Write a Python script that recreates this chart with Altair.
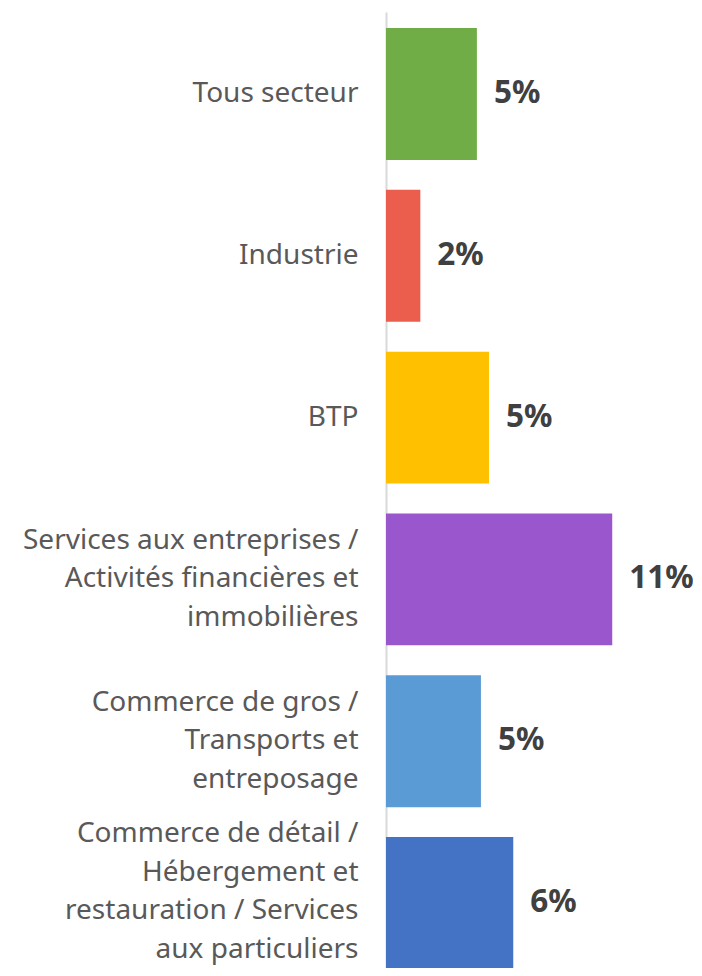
import altair as alt
import pandas as pd

categories = [
    "Tous secteur",
    "Industrie",
    "BTP",
    "Services aux entreprises /|Activités financières et|immobilières",
    "Commerce de gros /|Transports et|entreposage",
    "Commerce de détail /|Hébergement et|restauration / Services|aux particuliers",
]
values = [4.5, 1.7, 5.1, 11.2, 4.7, 6.3]
labels = ["5%", "2%", "5%", "11%", "5%", "6%"]
colors = ["#70AD47", "#EB5E4E", "#FFC000", "#9A57CD", "#5B9BD5", "#4472C4"]

df = pd.DataFrame({"cat": categories, "val": values, "lab": labels, "col": colors})

FONT = "Noto Sans"
LINE_H = 38.5

y_enc = alt.Y(
    "cat:N",
    sort=categories,
    scale=alt.Scale(paddingInner=0.185, paddingOuter=0.099),
    axis=alt.Axis(
        title=None,
        ticks=False,
        domain=True,
        domainColor="#D9D9D9",
        domainWidth=2,
        labelExpr="split(datum.label, '|')",
        labelFont=FONT,
        labelFontSize=28,
        labelColor="#595959",
        labelPadding=28,
        labelLineHeight=LINE_H,
        labelLimit=400,
        labelOffset={
            "condition": [
                {"test": "length(split(datum.value, '|')) == 4", "value": -1.5 * LINE_H - 11},
                {"test": "length(split(datum.value, '|')) == 3", "value": -1.0 * LINE_H},
            ],
            "value": 0,
        },
    ),
)
x_enc = alt.X(
    "val:Q",
    scale=alt.Scale(domain=[0, 15], nice=False),
    axis=None,
)

bars = alt.Chart(df).mark_bar().encode(
    y=y_enc,
    x=x_enc,
    color=alt.Color("col:N", scale=None),
)

text = alt.Chart(df).mark_text(
    align="left",
    baseline="middle",
    dx=17,
    font=FONT,
    fontSize=31.5,
    fontWeight="bold",
    color="#404040",
).encode(y=alt.Y("cat:N", sort=categories), x="val:Q", text="lab:N")

chart = (
    alt.layer(bars, text)
    .properties(
        width=303,
        height=973,
        autosize=alt.AutoSizeParams(type="none"),
        padding={"left": 378, "top": 4, "right": 4, "bottom": -17},
    )
    .configure_view(stroke=None)
)

chart.save("out.html", embed_options={"renderer": "svg", "actions": False})
